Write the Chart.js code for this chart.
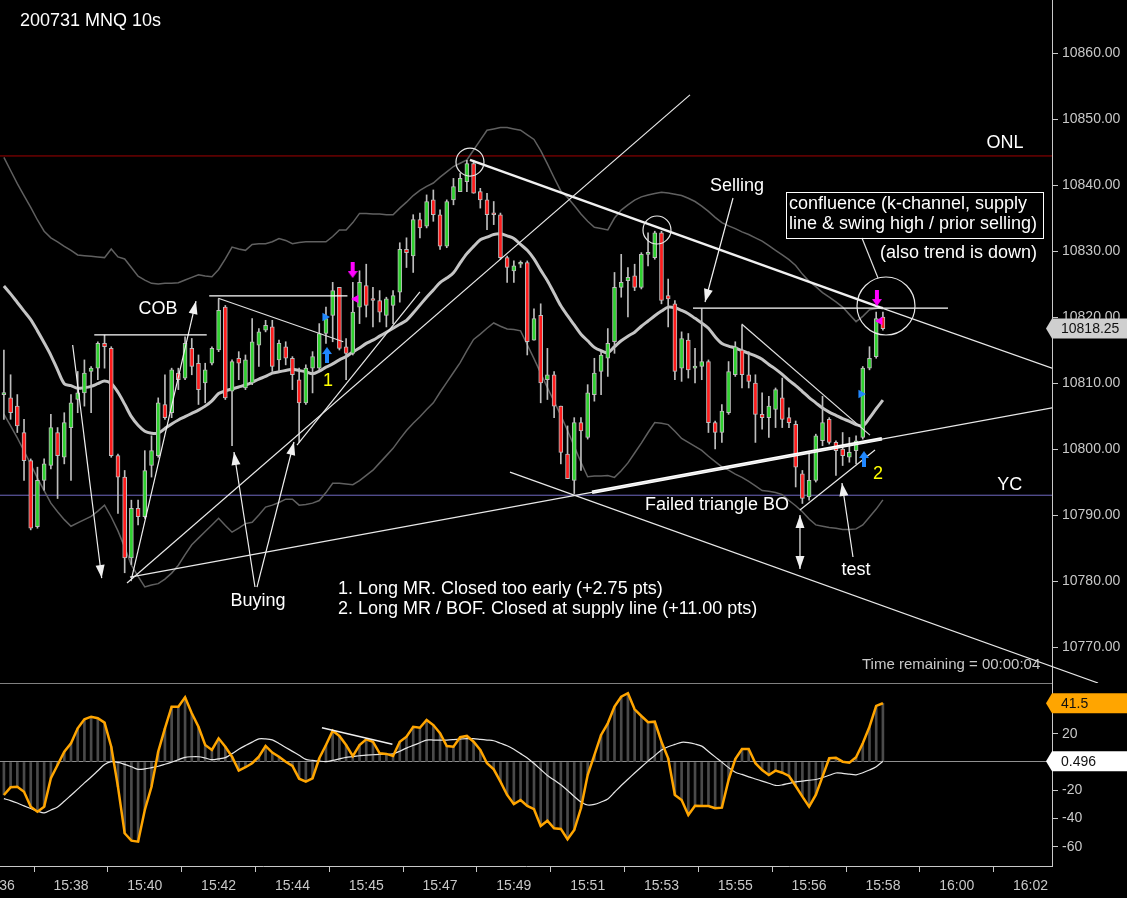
<!DOCTYPE html>
<html>
<head>
<meta charset="utf-8">
<script src="https://cdn.jsdelivr.net/npm/chart.js@4.4.1/dist/chart.umd.min.js"></script>
<style>
  html, body { margin: 0; padding: 0; background: #000; }
  #wrap { width: 1127px; height: 898px; position: relative; overflow: hidden; }
  .pane { position: absolute; left: 0; width: 1127px; }
  #top { top: 0; height: 683px; }
  #bot { top: 683px; height: 215px; }
</style>
</head>
<body>
<div id="wrap">
  <div class="pane" id="top"><canvas id="priceChart"></canvas></div>
  <div class="pane" id="bot"><canvas id="oscChart"></canvas></div>
</div>
<script>
// 10s bars, index 0 = first visible bar
const open = [
  10808.25,10807.75,10806.5,10802.5,10798.25,10788.25,10795.25,10797.5,10802.5,10798.75,
  10803.25,10807.5,10808.5,10811.75,10812.25,10816.0,10815.25,10799.0,10795.75,10783.5,
  10791.0,10789.75,10797.5,10799.0,10806.75,10805.5,10811.5,10810.75,10815.25,10813.0,
  10810.0,10813.0,10815.0,10821.5,10808.75,10813.75,10809.25,10810.0,10815.75,10818.0,
  10818.5,10813.5,10815.5,10813.75,10810.5,10807.0,10812.25,10812.25,10817.5,10820.25,
  10824.5,10815.5,10814.5,10821.5,10824.75,10822.75,10822.5,10820.25,10821.75,10823.75,
  10830.25,10829.25,10834.75,10833.75,10837.75,10835.5,10830.75,10837.75,10839.0,10840.5,
  10843.25,10839.0,10837.75,10835.75,10835.5,10829.0,10827.0,10828.0,10828.25,10816.5,
  10820.25,10810.5,10811.25,10806.5,10799.25,10795.25,10804.0,10801.75,10808.25,10811.75,
  10813.75,10816.25,10824.5,10825.5,10826.25,10824.5,10829.5,10829.0,10832.75,10823.25,
  10822.0,10812.25,10816.5,10812.25,10812.5,10813.25,10804.0,10802.5,10805.5,10811.25,
  10815.0,10811.25,10810.0,10805.25,10804.75,10806.0,10807.75,10804.75,10803.75,10796.25,
  10792.75,10795.25,10801.25,10804.5,10801.0,10800.0,10798.75,10799.75,10801.75,10812.25,
  10814.0,10820.0];
const high = [
  10815.0,10811.25,10808.25,10804.5,10798.5,10797.25,10798.5,10805.25,10803.25,10805.5,
  10808.25,10811.75,10813.5,10812.5,10816.25,10817.25,10815.5,10799.25,10796.75,10792.25,
  10792.25,10799.75,10802.0,10807.75,10811.25,10812.25,10812.25,10817.0,10816.75,10814.25,
  10813.0,10815.5,10822.75,10821.75,10813.5,10814.75,10814.25,10819.75,10818.25,10819.5,
  10819.5,10816.5,10816.25,10814.0,10812.25,10812.75,10814.75,10819.0,10821.5,10825.25,
  10824.5,10816.75,10825.25,10827.0,10828.0,10824.5,10824.0,10823.0,10824.0,10831.25,
  10832.0,10835.5,10835.75,10838.5,10839.25,10836.25,10837.75,10841.0,10841.75,10843.75,
  10843.75,10839.5,10838.75,10837.5,10835.75,10829.25,10828.5,10828.5,10828.5,10821.25,
  10822.0,10815.25,10811.75,10806.5,10803.5,10804.75,10804.75,10809.75,10813.75,10814.75,
  10818.25,10826.75,10829.5,10827.5,10828.0,10829.75,10832.75,10833.0,10833.0,10825.75,
  10822.5,10817.75,10817.5,10815.25,10821.25,10813.5,10804.25,10806.75,10813.25,10816.25,
  10818.75,10814.75,10811.25,10808.5,10808.0,10809.25,10810.75,10806.25,10804.25,10796.75,
  10799.5,10802.25,10808.0,10804.75,10801.25,10802.5,10801.75,10802.0,10812.5,10815.5,
  10820.75,10820.75];
const low = [
  10804.5,10804.5,10802.5,10795.25,10787.75,10788.0,10793.75,10797.0,10792.5,10797.75,
  10795.25,10805.5,10806.5,10805.5,10810.5,10812.25,10798.75,10790.25,10781.25,10782.5,
  10788.5,10789.5,10795.75,10798.75,10804.5,10804.75,10809.0,10810.5,10811.25,10806.75,
  10807.0,10812.75,10814.75,10807.5,10800.5,10810.5,10809.0,10809.75,10812.5,10817.75,
  10811.75,10811.75,10812.75,10809.0,10801.0,10806.75,10808.5,10812.0,10816.0,10816.25,
  10815.0,10810.5,10814.25,10819.0,10820.0,10818.5,10819.25,10818.5,10819.0,10822.25,
  10827.5,10826.75,10832.0,10833.5,10834.5,10830.25,10830.5,10837.0,10839.0,10839.0,
  10838.75,10836.5,10833.25,10834.0,10828.75,10825.25,10825.25,10827.5,10814.25,10816.5,
  10807.0,10807.5,10804.75,10797.75,10795.5,10793.25,10796.75,10801.5,10807.25,10808.25,
  10811.0,10814.5,10823.0,10820.0,10824.0,10824.25,10827.75,10828.75,10822.0,10818.5,
  10810.5,10810.25,10810.75,10810.0,10810.5,10802.5,10800.0,10801.0,10805.25,10811.0,
  10809.25,10809.25,10801.0,10803.0,10801.75,10803.25,10803.25,10803.25,10794.25,10791.75,
  10792.25,10795.0,10800.5,10800.75,10796.0,10797.5,10798.0,10797.75,10801.5,10812.0,
  10813.75,10818.0];
const close = [
  10808.5,10805.5,10803.5,10798.25,10788.0,10795.25,10797.75,10803.25,10799.0,10804.0,
  10807.0,10808.5,10811.5,10812.25,10816.0,10815.5,10799.0,10795.75,10783.5,10791.0,
  10789.75,10796.75,10799.75,10807.0,10804.75,10812.0,10810.5,10816.0,10812.5,10809.0,
  10812.0,10815.25,10821.0,10807.75,10813.25,10813.0,10813.5,10816.25,10817.75,10818.75,
  10812.5,10816.0,10813.75,10811.25,10807.0,10812.25,10814.0,10817.5,10819.75,10824.0,
  10815.25,10814.5,10820.75,10825.25,10821.75,10822.5,10820.75,10822.75,10823.25,10830.25,
  10829.75,10834.75,10833.5,10837.5,10835.5,10830.75,10837.5,10839.75,10841.0,10843.25,
  10838.75,10837.75,10835.5,10835.5,10829.0,10827.5,10827.75,10828.25,10816.25,10819.75,
  10810.0,10811.25,10806.5,10799.5,10795.5,10804.0,10802.75,10808.5,10811.5,10814.25,
  10816.0,10824.5,10825.25,10826.0,10824.5,10829.5,10829.75,10832.75,10822.5,10822.75,
  10811.75,10816.75,10812.0,10812.5,10813.25,10804.0,10802.5,10805.75,10811.75,10815.5,
  10811.25,10810.25,10805.25,10804.75,10806.5,10809.0,10804.5,10804.0,10797.25,10792.5,
  10795.25,10802.0,10804.0,10801.0,10799.75,10799.0,10799.5,10801.25,10812.25,10813.75,
  10819.75,10818.25];

// keltner channel
const kcMid = [
  10824.7,10823.5,10822.2,10820.9,10819.6,10817.9,10816.1,10814.2,10812.0,10809.9,
  10809.6,10809.2,10809.3,10809.5,10809.9,10810.3,10809.9,10808.6,10806.8,10804.9,
  10803.6,10802.7,10802.4,10802.4,10803.1,10803.8,10804.4,10804.9,10805.4,10805.9,
  10806.5,10807.3,10808.4,10808.8,10809.1,10809.4,10809.7,10810.1,10810.6,10811.0,
  10811.5,10811.7,10811.9,10812.1,10811.9,10811.7,10811.4,10811.8,10812.4,10812.9,
  10813.5,10814.0,10814.7,10815.3,10816.0,10816.5,10817.1,10817.7,10818.3,10818.9,
  10819.5,10820.6,10821.8,10823.0,10824.1,10825.2,10825.9,10826.7,10828.2,10829.6,
  10830.7,10831.7,10832.1,10832.5,10832.6,10832.3,10831.9,10831.0,10830.1,10828.8,
  10827.1,10825.5,10823.6,10821.7,10820.2,10818.8,10817.4,10816.4,10815.4,10814.9,
  10814.6,10815.5,10816.4,10817.1,10817.7,10818.6,10819.4,10820.2,10820.9,10821.5,
  10821.4,10821.0,10820.5,10819.8,10819.1,10818.3,10817.0,10816.0,10815.6,10815.3,
  10814.9,10814.5,10814.1,10813.6,10812.8,10812.1,10811.3,10810.4,10809.6,10808.7,
  10807.8,10807.0,10806.2,10805.6,10805.1,10804.6,10804.2,10803.7,10803.5,10804.7,
  10806.1,10807.4];
const kcUpper = [
  10844.2,10842.2,10840.2,10838.4,10836.6,10834.7,10833.0,10832.0,10831.4,10830.7,
  10830.1,10829.4,10829.3,10829.2,10829.1,10829.0,10830.3,10829.1,10828.8,10827.5,
  10826.2,10825.6,10825.1,10825.0,10825.1,10825.1,10825.2,10825.6,10826.0,10826.4,
  10826.2,10826.1,10827.2,10828.8,10830.6,10830.3,10830.1,10831.0,10831.1,10831.1,
  10831.4,10831.9,10831.6,10831.1,10831.3,10831.4,10831.4,10831.4,10831.4,10832.2,
  10833.2,10833.2,10834.3,10835.7,10835.7,10835.6,10835.6,10835.5,10835.5,10836.5,
  10837.4,10838.4,10839.2,10839.8,10840.3,10841.2,10842.0,10842.8,10843.3,10843.8,
  10845.3,10846.8,10848.3,10848.5,10848.7,10848.7,10848.5,10848.3,10847.6,10846.9,
  10845.2,10843.2,10841.1,10839.1,10838.1,10836.9,10835.6,10834.5,10833.6,10833.4,
  10833.2,10835.0,10836.2,10837.0,10837.7,10838.2,10838.5,10838.7,10838.9,10838.8,
  10838.6,10838.4,10838.0,10837.5,10836.8,10836.0,10835.1,10834.3,10833.8,10833.4,
  10832.9,10832.5,10832.0,10831.5,10830.8,10830.1,10829.4,10828.7,10827.8,10826.5,
  10825.4,10824.6,10823.7,10823.0,10822.3,10821.5,10820.4,10819.3,10820.1,10821.1,
  10821.3,10821.5];
const kcLower = [
  10805.3,10803.5,10801.7,10799.7,10797.7,10795.6,10793.7,10791.8,10790.5,10789.3,
  10788.3,10788.8,10789.3,10789.8,10790.6,10791.5,10789.7,10787.6,10785.1,10782.4,
  10780.7,10779.1,10779.4,10779.6,10780.3,10781.2,10782.4,10784.0,10785.5,10786.5,
  10787.5,10788.5,10789.5,10788.4,10787.4,10788.0,10788.7,10788.9,10790.0,10791.2,
  10791.5,10791.9,10792.4,10792.4,10791.5,10791.6,10791.8,10792.2,10793.4,10794.8,
  10794.8,10794.7,10794.6,10795.2,10796.0,10796.8,10797.9,10799.0,10800.1,10801.5,
  10802.8,10803.9,10804.9,10806.0,10807.0,10808.6,10810.1,10811.6,10813.1,10814.9,
  10816.6,10817.4,10818.3,10819.1,10818.6,10818.2,10818.1,10817.9,10815.8,10813.7,
  10811.5,10809.3,10807.2,10805.1,10802.8,10800.4,10798.0,10795.8,10795.9,10795.9,
  10796.0,10795.7,10796.7,10797.9,10799.4,10800.9,10802.5,10804.0,10803.9,10803.7,
  10802.7,10801.6,10801.0,10800.4,10799.8,10798.9,10798.1,10797.3,10796.8,10796.2,
  10795.7,10795.1,10794.4,10793.7,10793.6,10793.4,10793.1,10792.2,10791.4,10790.5,
  10789.4,10788.5,10788.3,10788.1,10788.0,10787.8,10787.8,10787.9,10788.5,10789.7,
  10790.9,10792.3];

// oscillator and its signal line
const osc = [
  -23.3,-17.9,-17.5,-21.0,-31.6,-35.1,-31.6,-11.5,-2.1,7.3,
  13.2,23.8,30.2,32.0,30.9,27.8,10.8,-17.5,-50.4,-55.6,
  -56.3,-33.9,-17.5,7.3,23.8,39.1,39.1,45.7,34.4,24.9,
  12.0,8.5,16.7,10.8,3.7,-6.1,-3.7,-0.9,3.7,11.3,
  6.6,3.7,0.2,-2.8,-11.8,-13.9,-11.5,2.6,12.0,22.1,
  18.4,12.0,4.2,12.0,16.0,14.3,6.1,5.7,4.2,14.3,
  17.9,24.9,24.2,29.7,26.1,20.3,11.3,10.8,17.5,18.4,
  14.3,8.5,-0.9,-5.2,-13.9,-23.3,-29.7,-26.9,-31.1,-33.4,
  -45.2,-41.5,-46.9,-47.3,-54.6,-48.1,-32.7,-9.2,4.9,19.1,
  27.3,39.1,46.1,48.6,37.2,32.5,28.1,28.5,14.3,2.6,
  -23.3,-26.9,-37.5,-30.9,-31.1,-31.1,-32.7,-32.3,-12.7,2.1,
  9.2,9.2,-0.9,-5.7,-9.2,-6.1,-7.6,-9.9,-17.0,-24.5,
  -31.6,-23.3,-10.4,2.6,3.0,0.2,-0.5,3.3,13.2,24.9,
  39.6,41.5];
const oscSignal = [
  -25.9,-27.3,-29.0,-31.0,-32.9,-34.7,-36.0,-33.9,-31.8,-27.8,
  -23.5,-19.2,-14.8,-10.6,-6.2,-1.8,0.2,-0.3,-1.7,-3.4,
  -5.2,-4.9,-4.0,-3.0,-1.6,-0.1,1.6,3.3,3.7,3.7,
  2.8,1.6,2.2,3.1,5.9,9.0,11.6,14.0,16.3,16.3,
  15.6,13.1,10.3,7.5,4.7,1.8,1.1,0.6,0.3,1.1,
  2.2,3.3,3.8,4.4,4.9,5.1,5.3,5.4,5.7,7.6,
  9.8,11.7,13.6,15.5,15.5,15.5,15.5,15.8,16.2,16.5,
  16.5,16.0,15.5,15.0,13.2,11.5,9.0,5.9,2.8,-1.1,
  -5.3,-9.5,-12.8,-16.1,-20.1,-24.4,-28.3,-30.4,-30.0,-28.3,
  -26.1,-21.4,-16.6,-12.2,-7.8,-3.5,0.6,4.5,8.5,10.8,
  12.4,13.9,13.7,12.7,11.2,7.4,3.6,-0.1,-4.0,-7.3,
  -8.8,-10.5,-12.0,-13.5,-15.0,-16.6,-16.2,-15.1,-14.1,-13.5,
  -12.9,-12.4,-11.0,-9.4,-7.8,-8.0,-8.6,-9.1,-7.6,-5.7,
  -3.3,0.496];

const timeTickIdx = [-1, 10, 21, 32, 43, 54, 65, 76, 87, 98, 109, 120, 131, 142, 153];
const timeTickLabels = ['15:36','15:38','15:40','15:42','15:44','15:45','15:47','15:49',
  '15:51','15:53','15:55','15:56','15:58','16:00','16:02'];
const priceTicks = [10770, 10780, 10790, 10800, 10810, 10820, 10830, 10840, 10850, 10860];
const oscTicks = [-60, -40, -20, 0, 20, 40];

const onlLevel = 10844.4;
const ycLevel = 10793.0;

// drawn objects, [bar index, price]
const supportLine = [[18.79, 10780.6], [156.2, 10806.25]];
const supportBold = [[87.65, 10793.45], [130.86, 10801.55]];
const riseLineA = [[18.35, 10779.7], [102.25, 10853.65]];
const riseLineB = [[43.68, 10800.6], [62.0, 10823.8]];
const supplyBold = [[69.46, 10843.8], [131.0, 10821.3]];
const supplyExt = [[131.0, 10821.3], [156.2, 10812.25]];
const channelLow = [[75.42, 10796.5], [163.06, 10764.55]];
const triTop = [[109.95, 10818.95], [129.07, 10802.1]];
const triBottom = [[118.64, 10790.75], [129.82, 10799.85]];
const sellLevel = [[102.7, 10821.35], [140.7, 10821.35]];
const cobLevel = [[13.47, 10817.3], [30.23, 10817.3]];
const highLevel = [[30.6, 10823.2], [51.2, 10823.2]];
const wedgeTop = [[31.95, 10822.85], [50.58, 10816.25]];
const boxLink = [[127.88, 10831.97], [130.27, 10825.91]];

const arrows = [
  {pts: [[10.25, 10815.76], [14.58, 10780.45]], heads: 'end'},
  {pts: [[18.94, 10780.0], [28.63, 10822.42]], heads: 'end'},
  {pts: [[37.42, 10779.09], [34.29, 10799.55]], heads: 'end'},
  {pts: [[37.72, 10779.09], [43.23, 10801.06]], heads: 'end'},
  {pts: [[108.66, 10838.03], [104.49, 10822.27]], heads: 'end'},
  {pts: [[126.54, 10783.64], [124.9, 10794.85]], heads: 'end'},
  {pts: [[118.64, 10790.0], [118.64, 10781.82]], heads: 'both'}
];

const rings = [[69.46, 10843.48], [97.33, 10833.18], [131.46, 10821.67]];
const ringSize = [14, 14, 29];

const sellArrows = [[51.98, 10827.12], [130.11, 10822.88]];
const sellTicks = [[52.47, 10822.73], [130.56, 10819.39]];
const buyTicks = [[47.85, 10820.0], [127.73, 10808.33]];
const buyArrows = [[48.15, 10814.24], [128.18, 10798.48]];

const confluenceBox = [[116.56, 10838.94], [154.86, 10831.97]];
const notes = [
  {t: 'ONL', x: 149.2, y: 10846.36, a: 'center'},
  {t: 'COB', x: 22.97, y: 10821.2, a: 'center'},
  {t: 'Buying', x: 37.87, y: 10776.97, a: 'center'},
  {t: 'Selling', x: 109.25, y: 10839.85, a: 'center'},
  {t: 'confluence (k-channel, supply', x: 117.0, y: 10837.12, a: 'left'},
  {t: 'line & swing high / prior selling)', x: 117.0, y: 10834.09, a: 'left'},
  {t: '(also trend is down)', x: 153.96, y: 10829.7, a: 'right'},
  {t: 'Failed triangle BO', x: 95.54, y: 10791.52, a: 'left'},
  {t: 'YC', x: 149.9, y: 10794.55, a: 'center'},
  {t: 'test', x: 126.99, y: 10781.67, a: 'center'},
  {t: '1. Long MR. Closed too early (+2.75 pts)', x: 49.79, y: 10778.79, a: 'left'},
  {t: '2. Long MR / BOF. Closed at supply line (+11.00 pts)', x: 49.79, y: 10775.76, a: 'left'},
  {t: '1', x: 48.3, y: 10810.3, a: 'center', c: '#ffff00'},
  {t: '2', x: 130.27, y: 10796.21, a: 'center', c: '#ffff00'}
];

const divergence = [[47.4, 24.2], [57.9, 12.5]];

const X_MIN = -0.58, X_MAX = 156.2;
const FONT = '"Liberation Sans", Arial, sans-serif';
const AXIS_COL = '#c8c8c8';
const GREEN = '#2fd12f', RED = '#ff1c1c';

Chart.defaults.font.family = FONT;
Chart.defaults.color = AXIS_COL;

const idx = open.map((_, i) => i);
const xy = arr => arr.map(([x, y]) => ({x, y}));
const candleCol = idx.map(i => close[i] >= open[i] ? GREEN : RED);

function seg(pts, color, width, extra) {
  return Object.assign({
    type: 'line', data: xy(pts), borderColor: color, borderWidth: width,
    pointRadius: 0, tension: 0, order: 4
  }, extra || {});
}

function arrowIcon(color, dir) {
  const c = document.createElement('canvas');
  c.width = 10; c.height = 16;
  const g = c.getContext('2d');
  g.fillStyle = color;
  g.beginPath();
  if (dir === 'up') {
    g.moveTo(5, 0); g.lineTo(10, 7); g.lineTo(7, 7); g.lineTo(7, 16); g.lineTo(3, 16); g.lineTo(3, 7); g.lineTo(0, 7);
  } else {
    g.moveTo(5, 16); g.lineTo(10, 9); g.lineTo(7, 9); g.lineTo(7, 0); g.lineTo(3, 0); g.lineTo(3, 9); g.lineTo(0, 9);
  }
  g.closePath();
  g.fill();
  return c;
}

function arrowHead(ctx, from, to, color) {
  const ang = Math.atan2(to.y - from.y, to.x - from.x);
  const len = 13, half = 4.5;
  const bx = to.x - len * Math.cos(ang), by = to.y - len * Math.sin(ang);
  ctx.save();
  ctx.fillStyle = color;
  ctx.beginPath();
  ctx.moveTo(to.x, to.y);
  ctx.lineTo(bx + half * Math.sin(ang), by - half * Math.cos(ang));
  ctx.lineTo(bx - half * Math.sin(ang), by + half * Math.cos(ang));
  ctx.closePath();
  ctx.fill();
  ctx.restore();
}

function axisTag(ctx, area, py, text, bg, fg) {
  ctx.save();
  ctx.fillStyle = bg;
  ctx.beginPath();
  ctx.moveTo(area.right - 6, py);
  ctx.lineTo(area.right, py - 10);
  ctx.lineTo(area.right + 80, py - 10);
  ctx.lineTo(area.right + 80, py + 10);
  ctx.lineTo(area.right, py + 10);
  ctx.closePath();
  ctx.fill();
  ctx.fillStyle = fg;
  ctx.font = '14px ' + FONT;
  ctx.textAlign = 'left';
  ctx.textBaseline = 'middle';
  ctx.fillText(text, area.right + 9, py + 1);
  ctx.restore();
}

function drawHeads(chart) {
  chart.data.datasets.forEach((ds, k) => {
    if (!ds.heads) return;
    const pts = chart.getDatasetMeta(k).data;
    const a = pts[0], b = pts[pts.length - 1];
    if (ds.heads !== 'start') arrowHead(chart.ctx, a, b, ds.borderColor);
    if (ds.heads !== 'end') arrowHead(chart.ctx, b, a, ds.borderColor);
  });
}

const priceOverlay = {
  id: 'priceOverlay',
  afterDatasetsDraw(chart) {
    const {ctx, chartArea: area, scales: {x, y}} = chart;
    drawHeads(chart);

    ctx.save();
    const x0 = x.getPixelForValue(confluenceBox[0][0]), y0 = y.getPixelForValue(confluenceBox[0][1]);
    const x1 = x.getPixelForValue(confluenceBox[1][0]), y1 = y.getPixelForValue(confluenceBox[1][1]);
    ctx.strokeStyle = '#ffffff';
    ctx.lineWidth = 1;
    ctx.strokeRect(Math.round(x0) + 0.5, Math.round(y0) + 0.5, Math.round(x1 - x0), Math.round(y1 - y0));

    ctx.font = '18px ' + FONT;
    ctx.textBaseline = 'middle';
    notes.forEach(n => {
      ctx.fillStyle = n.c || '#ffffff';
      ctx.textAlign = n.a;
      ctx.fillText(n.t, x.getPixelForValue(n.x), y.getPixelForValue(n.y));
    });

    ctx.textAlign = 'left';
    ctx.fillStyle = '#ffffff';
    ctx.fillText('200731 MNQ 10s', area.left + 20, area.top + 21);
    ctx.font = '15px ' + FONT;
    ctx.fillStyle = AXIS_COL;
    ctx.fillText('Time remaining = 00:00:04', area.right - 190, area.bottom - 18);
    ctx.restore();
  },
  afterDraw(chart) {
    const {ctx, chartArea: area, scales: {y}} = chart;
    const last = close[close.length - 1];
    axisTag(ctx, area, y.getPixelForValue(last), last.toFixed(2), '#cfcfcf', '#111111');
  }
};

const oscOverlay = {
  id: 'oscOverlay',
  afterDatasetsDraw(chart) {
    drawHeads(chart);
  },
  afterDraw(chart) {
    const {ctx, chartArea: area, scales: {y}} = chart;
    ctx.save();
    ctx.strokeStyle = '#808080';
    ctx.lineWidth = 1;
    ctx.beginPath();
    ctx.moveTo(0, 0.5);
    ctx.lineTo(area.right, 0.5);
    ctx.stroke();
    ctx.restore();
    const o = osc[osc.length - 1], s = oscSignal[oscSignal.length - 1];
    axisTag(ctx, area, y.getPixelForValue(o), o.toFixed(1), '#ffa500', '#111111');
    axisTag(ctx, area, y.getPixelForValue(s), s.toFixed(3), '#ffffff', '#111111');
  }
};

// keep scale label overflow from shrinking the plot area
function noPad(s) {
  s.paddingTop = 0; s.paddingBottom = 0; s.paddingLeft = 0; s.paddingRight = 0;
}

const rightAxis = (min, max, ticks, fmt) => ({
  position: 'right', min, max, bounds: 'data',
  afterBuildTicks: s => { s.ticks = ticks.map(v => ({value: v})); },
  afterFit: s => { s.width = 75; noPad(s); },
  ticks: {color: AXIS_COL, font: {size: 14}, padding: 4, callback: fmt},
  grid: {drawOnChartArea: false, drawTicks: true, tickLength: 6, tickColor: AXIS_COL},
  border: {display: true, color: AXIS_COL}
});

new Chart(document.getElementById('priceChart'), {
  type: 'line',
  data: {
    datasets: [
      {type: 'line', data: idx.map(i => ({x: i, y: kcUpper[i]})), borderColor: '#606060', borderWidth: 1.5, pointRadius: 0, tension: 0, order: 20},
      {type: 'line', data: idx.map(i => ({x: i, y: kcLower[i]})), borderColor: '#606060', borderWidth: 1.5, pointRadius: 0, tension: 0, order: 20},
      {type: 'line', data: idx.map(i => ({x: i, y: kcMid[i]})), borderColor: '#c4c4c4', borderWidth: 3, pointRadius: 0, tension: 0.3, order: 19},
      seg([[X_MIN, onlLevel], [X_MAX, onlLevel]], '#a00000', 1, {order: 21}),
      seg([[X_MIN, ycLevel], [X_MAX, ycLevel]], '#7068c0', 1, {order: 21}),
      {type: 'bar', data: idx.map(i => ({x: i, y: [low[i], high[i]]})), backgroundColor: '#bdbdbd',
        barThickness: 1, grouped: false, minBarLength: 1, order: 18},
      {type: 'bar', data: idx.map(i => ({x: i, y: [open[i], close[i]]})), backgroundColor: candleCol,
        borderColor: '#bdbdbd', borderWidth: 1, borderSkipped: false, barThickness: 4, grouped: false,
        minBarLength: 2, order: 17},
      seg(supportLine, '#e8e8e8', 1.2),
      seg(supportBold, '#ffffff', 3.5),
      seg(riseLineA, '#e8e8e8', 1.2),
      seg(riseLineB, '#e8e8e8', 1.2),
      seg(supplyBold, '#f0f0f0', 2.5),
      seg(supplyExt, '#e8e8e8', 1.2),
      seg(channelLow, '#e8e8e8', 1.2, {clip: false}),
      seg(triTop, '#e0e0e0', 1.2),
      seg(triBottom, '#e8e8e8', 1.2),
      seg(sellLevel, '#ffffff', 1.2),
      seg(cobLevel, '#ffffff', 1.2),
      seg(highLevel, '#ffffff', 1.2),
      seg(wedgeTop, '#e0e0e0', 1.2),
      seg(boxLink, '#e0e0e0', 1.2),
      ...arrows.map(a => seg(a.pts, '#f0f0f0', 1.2, {heads: a.heads})),
      {type: 'line', data: xy(rings), showLine: false, pointStyle: 'circle', pointRadius: ringSize,
        pointBackgroundColor: 'rgba(0,0,0,0)', pointBorderColor: '#e8e8e8', pointBorderWidth: 1.2, order: 3},
      {type: 'line', data: xy(sellArrows), showLine: false, pointStyle: arrowIcon('#ff00ff', 'down'), order: 2},
      {type: 'line', data: xy(buyArrows), showLine: false, pointStyle: arrowIcon('#2088ff', 'up'), order: 2},
      {type: 'line', data: xy(sellTicks), showLine: false, pointStyle: 'triangle', pointRotation: -90, pointRadius: 5,
        pointBackgroundColor: '#ff00ff', pointBorderWidth: 0, order: 2},
      {type: 'line', data: xy(buyTicks), showLine: false, pointStyle: 'triangle', pointRotation: 90, pointRadius: 5,
        pointBackgroundColor: '#2088ff', pointBorderWidth: 0, order: 2}
    ]
  },
  options: {
    responsive: true, maintainAspectRatio: false, animation: false, events: [],
    layout: {autoPadding: false, padding: 0},
    plugins: {legend: {display: false}, tooltip: {enabled: false}},
    scales: {
      x: {type: 'linear', display: false, min: X_MIN, max: X_MAX, bounds: 'data', offset: false,
        afterFit: noPad},
      y: rightAxis(10764.55, 10868.03, priceTicks, v => v.toFixed(2))
    }
  },
  plugins: [priceOverlay]
});

new Chart(document.getElementById('oscChart'), {
  type: 'line',
  data: {
    datasets: [
      {type: 'bar', data: idx.map(i => ({x: i, y: osc[i]})), backgroundColor: '#4a4a4a', barThickness: 2,
        grouped: false, order: 5},
      {type: 'line', data: idx.map(i => ({x: i, y: oscSignal[i]})), borderColor: '#e6e6e6', borderWidth: 1.2,
        pointRadius: 0, tension: 0.3, order: 3},
      {type: 'line', data: idx.map(i => ({x: i, y: osc[i]})), borderColor: '#ffa500', borderWidth: 2.5,
        pointRadius: 0, tension: 0, order: 2},
      seg(divergence, '#f0f0f0', 1.5, {order: 1})
    ]
  },
  options: {
    responsive: true, maintainAspectRatio: false, animation: false, events: [],
    layout: {autoPadding: false, padding: 0},
    plugins: {legend: {display: false}, tooltip: {enabled: false}},
    scales: {
      x: {
        type: 'linear', min: X_MIN, max: X_MAX, bounds: 'data', offset: false,
        afterBuildTicks: s => { s.ticks = timeTickIdx.map(v => ({value: v})); },
        afterFit: s => { s.height = 32; noPad(s); },
        ticks: {autoSkip: false, maxRotation: 0, color: AXIS_COL, font: {size: 14}, padding: 6,
          callback: (v, k) => timeTickLabels[k]},
        grid: {drawOnChartArea: false, drawTicks: true, tickLength: 6, tickColor: AXIS_COL},
        border: {display: true, color: AXIS_COL}
      },
      y: Object.assign(rightAxis(-73.5, 55.8, oscTicks, v => String(v)), {
        grid: {
          drawOnChartArea: true, drawTicks: true, tickLength: 6, tickColor: AXIS_COL,
          color: c => c.tick && c.tick.value === 0 ? '#909090' : 'rgba(0,0,0,0)'
        }
      })
    }
  },
  plugins: [oscOverlay]
});
</script>
</body>
</html>
